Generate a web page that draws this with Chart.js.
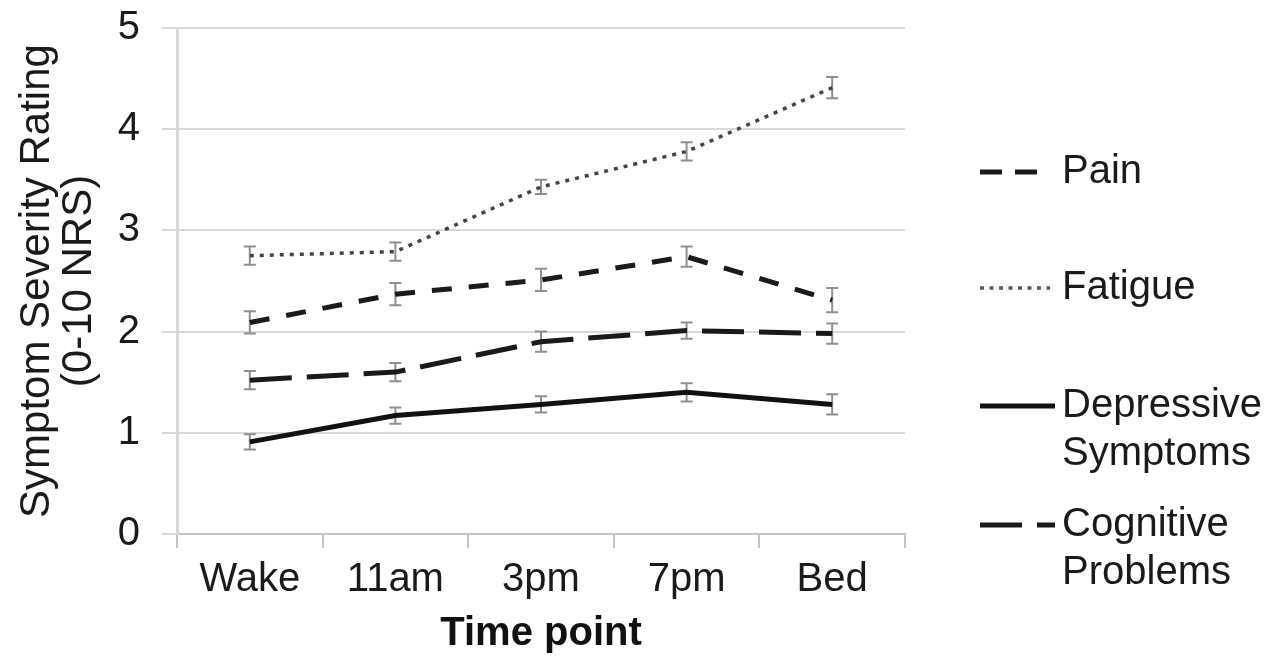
<!DOCTYPE html>
<html>
<head>
<meta charset="utf-8">
<script src="https://cdn.jsdelivr.net/npm/chart.js@4.4.1/dist/chart.umd.min.js"></script>
<style>
    html, body { margin: 0; padding: 0; background: #fff; }
    #wrap { width: 1288px; height: 664px; position: relative; }
</style>
</head>
<body>
<div id="wrap"><canvas id="symptomChart"></canvas></div>
<script>
// Data
const timePoints = ['Wake', '11am', '3pm', '7pm', 'Bed'];

const painMeans = [2.09, 2.37, 2.51, 2.74, 2.31];
const painErrors = [0.11, 0.11, 0.11, 0.10, 0.12];

const fatigueMeans = [2.75, 2.79, 3.43, 3.78, 4.41];
const fatigueErrors = [0.09, 0.09, 0.07, 0.09, 0.105];

const depressiveMeans = [0.91, 1.17, 1.28, 1.40, 1.28];
const depressiveErrors = [0.075, 0.08, 0.08, 0.09, 0.10];

const cognitiveMeans = [1.52, 1.60, 1.90, 2.01, 1.98];
const cognitiveErrors = [0.09, 0.09, 0.10, 0.08, 0.10];

const seriesNames = ['Pain', 'Fatigue', 'Depressive Symptoms', 'Cognitive Problems'];
const legendLines = [['Pain'], ['Fatigue'], ['Depressive', 'Symptoms'], ['Cognitive', 'Problems']];

const FONT = "'Liberation Sans', Arial, sans-serif";
const TEXT = '#1a1a1a';

// gray error bars with caps, drawn under the lines
const errorBarPlugin = {
    id: 'errorBars',
    beforeDatasetsDraw(chart) {
        const { ctx, scales: { x, y } } = chart;
        ctx.save();
        ctx.strokeStyle = '#8f8f8f';
        ctx.lineWidth = 2;
        ctx.setLineDash([]);
        chart.data.datasets.forEach(ds => {
            ds.data.forEach((v, i) => {
                const err = ds.errors[i];
                const px = x.getPixelForValue(i);
                const top = y.getPixelForValue(v + err);
                const bot = y.getPixelForValue(v - err);
                ctx.beginPath();
                ctx.moveTo(px, top); ctx.lineTo(px, bot);
                ctx.moveTo(px - 6, top); ctx.lineTo(px + 6, top);
                ctx.moveTo(px - 6, bot); ctx.lineTo(px + 6, bot);
                ctx.stroke();
            });
        });
        ctx.restore();
    }
};

// legend on the right, one sample line + (multi-line) text per series
const legendPlugin = {
    id: 'sideLegend',
    afterDraw(chart) {
        const { ctx } = chart;
        const rows = [172, 288, 406, 525];
        const samples = [
            { dash: [22, 13], width: 5, color: '#1a1a1a', to: 1038 },
            { dash: [4, 5.5], width: 3.5, color: '#555', to: 1050 },
            { dash: [], width: 5, color: '#111', to: 1055 },
            { dash: [42, 15], width: 5, color: '#1a1a1a', to: 1055 }
        ];
        ctx.save();
        ctx.font = `40px ${FONT}`;
        ctx.textBaseline = 'middle';
        ctx.textAlign = 'left';
        legendLines.forEach((lines, i) => {
            const s = samples[i];
            const yy = rows[i];
            ctx.beginPath();
            ctx.setLineDash(s.dash);
            ctx.lineWidth = s.width;
            ctx.strokeStyle = s.color;
            ctx.moveTo(980, yy);
            ctx.lineTo(s.to, yy);
            ctx.stroke();
            ctx.setLineDash([]);
            ctx.fillStyle = TEXT;
            lines.forEach((t, j) => ctx.fillText(t, 1062, yy + j * 48));
        });
        ctx.restore();
    }
};

function makeChart() {
    const ctx = document.getElementById('symptomChart').getContext('2d');

    const lineBase = {
        fill: false,
        tension: 0,
        pointRadius: 0,
        pointHoverRadius: 0,
        borderCapStyle: 'butt'
    };

    return new Chart(ctx, {
        type: 'line',
        data: {
            labels: timePoints,
            datasets: [
                { ...lineBase, label: seriesNames[0], data: painMeans, errors: painErrors,
                  borderColor: '#1a1a1a', borderWidth: 5, borderDash: [20, 17] },
                { ...lineBase, label: seriesNames[1], data: fatigueMeans, errors: fatigueErrors,
                  borderColor: '#444', borderWidth: 3.5, borderDash: [4, 6] },
                { ...lineBase, label: seriesNames[2], data: depressiveMeans, errors: depressiveErrors,
                  borderColor: '#111', borderWidth: 5 },
                { ...lineBase, label: seriesNames[3], data: cognitiveMeans, errors: cognitiveErrors,
                  borderColor: '#1a1a1a', borderWidth: 5, borderDash: [42, 15] }
            ]
        },
        options: {
            responsive: true,
            maintainAspectRatio: false,
            animation: false,
            devicePixelRatio: 1,
            layout: { padding: { top: 28, right: 383, left: 0, bottom: 0 } },
            plugins: {
                legend: { display: false },
                tooltip: { enabled: false },
                title: { display: false }
            },
            scales: {
                x: {
                    offset: true,
                    grid: { offset: true, drawOnChartArea: false, drawTicks: true, tickLength: 14,
                            color: '#c4c4c4', lineWidth: 2 },
                    border: { display: true, color: '#c4c4c4', width: 2 },
                    ticks: { font: { family: FONT, size: 40 }, color: TEXT, padding: 8,
                             maxRotation: 0, autoSkip: false },
                    title: { display: true, text: 'Time point', color: '#111',
                             font: { family: FONT, size: 40, weight: 'bold' },
                             padding: { top: 0, bottom: 6 } },
                    afterFit(scale) { scale.height = 130; }
                },
                y: {
                    min: 0,
                    max: 5,
                    ticks: { stepSize: 1, font: { family: FONT, size: 40 }, color: TEXT, padding: 22 },
                    grid: { color: '#d9d9d9', lineWidth: 2, tickLength: 15 },
                    border: { color: '#d9d9d9', width: 3 },
                    title: { display: true, text: ['Symptom Severity Rating', '(0-10 NRS)'], color: TEXT,
                             font: { family: FONT, size: 42, lineHeight: 1.0 },
                             padding: { top: 16, bottom: 0 } },
                    afterFit(scale) {
                        scale.width = 177;
                        // let the layout padding alone decide where the plot starts
                        scale.paddingTop = 0;
                        scale.paddingBottom = 0;
                    }
                }
            }
        },
        plugins: [errorBarPlugin, legendPlugin]
    });
}

makeChart();
</script>
</body>
</html>
